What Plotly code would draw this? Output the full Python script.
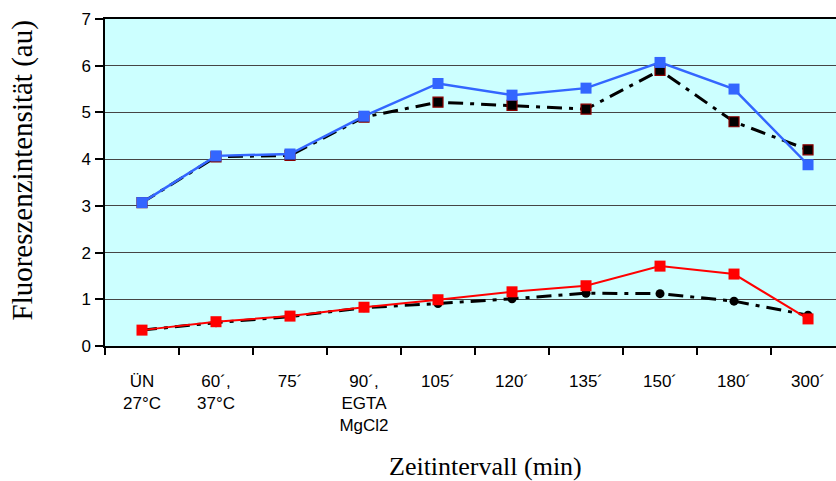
import plotly.graph_objects as go

categories = ["ÜN<br>27°C", "60´,<br>37°C", "75´", "90´,<br>EGTA<br>MgCl2", "105´",
              "120´", "135´", "150´", "180´", "300´"]

blue_sq = [3.07, 4.07, 4.11, 4.92, 5.62, 5.37, 5.52, 6.07, 5.50, 3.88]
black_sq = [3.07, 4.05, 4.08, 4.90, 5.22, 5.15, 5.07, 5.90, 4.80, 4.20]
red_sq = [0.34, 0.52, 0.64, 0.83, 0.99, 1.16, 1.29, 1.71, 1.54, 0.58]
black_circ = [0.34, 0.50, 0.63, 0.82, 0.91, 1.01, 1.13, 1.12, 0.96, 0.66]

dash = "15px,7px,4px,7px"

fig = go.Figure()
fig.add_trace(go.Scatter(x=categories, y=black_sq, mode="lines+markers",
                         line=dict(color="black", width=3, dash=dash),
                         marker=dict(symbol="square", size=10, color="black",
                                     line=dict(color="#8B0000", width=1.2))))
fig.add_trace(go.Scatter(x=categories, y=black_circ, mode="lines+markers",
                         line=dict(color="black", width=3, dash=dash),
                         marker=dict(symbol="circle", size=9, color="black")))
fig.add_trace(go.Scatter(x=categories, y=blue_sq, mode="lines+markers",
                         line=dict(color="#3366FF", width=2.5),
                         marker=dict(symbol="square", size=11, color="#3366FF")))
fig.add_trace(go.Scatter(x=categories, y=red_sq, mode="lines+markers",
                         line=dict(color="#FF0000", width=2),
                         marker=dict(symbol="square", size=11, color="#FF0000")))

fig.update_layout(
    width=836, height=481,
    margin=dict(l=105, r=0, t=19, b=135),
    paper_bgcolor="white",
    plot_bgcolor="#CCFFFF",
    showlegend=False,
    font=dict(family="Liberation Sans, Arial", size=17, color="black"),
    xaxis=dict(type="category", range=[-0.5, 9.378], tickson="boundaries",
               ticks="outside", ticklen=7, tickcolor="black", tickwidth=1.5,
               showline=True, linecolor="black", linewidth=1.5, mirror=True,
               showgrid=False, ticklabelstandoff=19,
               tickfont=dict(family="Liberation Sans, Arial", size=17)),
    yaxis=dict(range=[0, 7], dtick=1, ticks="outside", ticklen=8,
               tickcolor="black", tickwidth=1.5,
               showline=True, linecolor="black", linewidth=1.5,
               showgrid=True, gridcolor="#454545", gridwidth=1.2,
               zeroline=False, ticklabelstandoff=1,
               tickfont=dict(family="Liberation Sans, Arial", size=17)),
    annotations=[
        dict(text="Fluoreszenzintensität (au)", xref="paper", yref="paper",
             x=-105/731, y=(346 - 171) / 327, xanchor="left", yanchor="middle",
             textangle=-90, showarrow=False, xshift=4,
             font=dict(family="Liberation Serif, Times New Roman", size=29)),
        dict(text="Zeitintervall (min)", xref="paper", yref="paper",
             x=(485.5 - 105) / 731, y=0, xanchor="center", yanchor="middle",
             yshift=-(466 - 346), showarrow=False,
             font=dict(family="Liberation Serif, Times New Roman", size=26)),
    ],
)

fig.write_html("out.html")
